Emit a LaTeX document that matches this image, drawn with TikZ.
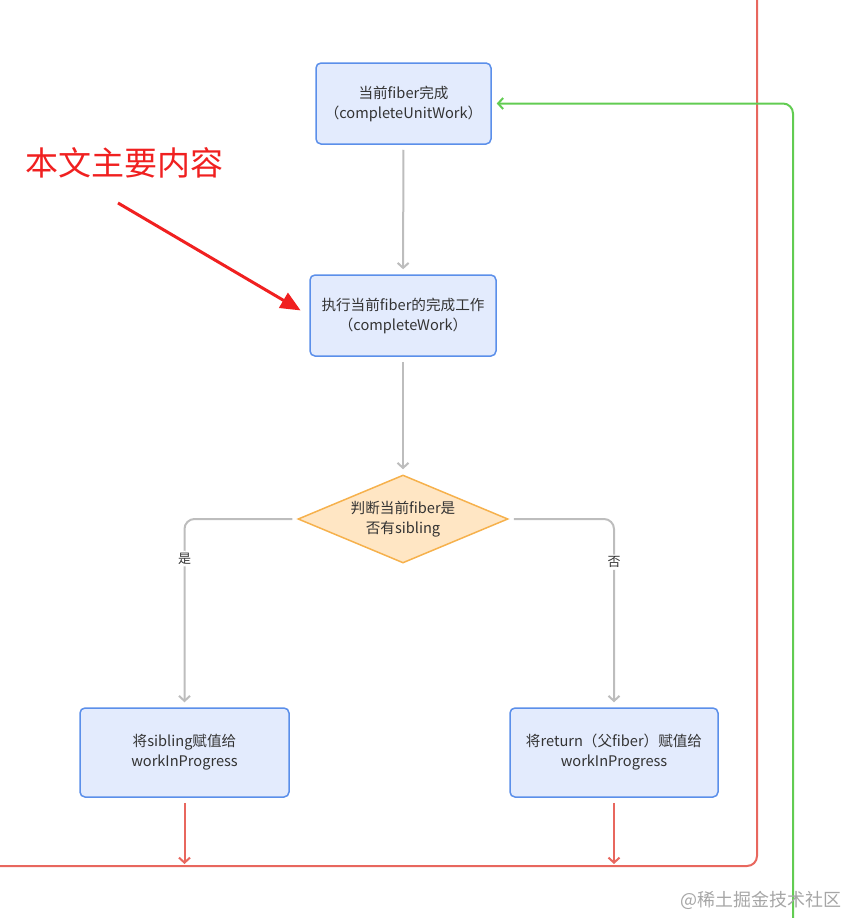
\documentclass[tikz,border=0pt]{standalone}
\usepackage{fontspec}
\newfontfamily\cjk{Noto Sans CJK SC}
\usetikzlibrary{shapes.geometric,arrows.meta}
\definecolor{boxfill}{HTML}{E3EBFD}
\definecolor{boxline}{HTML}{5B8FEA}
\definecolor{decfill}{HTML}{FFE6C4}
\definecolor{decline}{HTML}{F6B14C}
\definecolor{flowgray}{HTML}{BDBDBD}
\definecolor{loopred}{HTML}{E8675E}
\definecolor{loopgreen}{HTML}{62CC52}
\definecolor{notered}{HTML}{F02020}
\tikzset{
	procbox/.style={draw=boxline,fill=boxfill,line width=1.5pt,rounded corners=5pt,
		minimum height=81pt,align=center,text=black!80,font=\cjk\fontsize{14.6}{20}\selectfont},
	decbox/.style={diamond,draw=decline,fill=decfill,line width=1.5pt,inner sep=0pt,aspect=2.39,
		minimum width=210pt,minimum height=88pt,align=center,text=black!80,font=\cjk\fontsize{14.6}{20}\selectfont},
	flow/.style={draw=flowgray,line width=2pt,-{Straight Barb[length=5pt,width=11pt]},shorten <=5pt,shorten >=5pt},
	answer/.style={fill=white,inner sep=2pt,text=black!80,font=\cjk\fontsize{13}{13}\selectfont},
	redloop/.style={draw=loopred,line width=2pt},
	greenloop/.style={draw=loopgreen,line width=2pt},
	pointer/.style={draw=notered,line width=3pt,-{Triangle[length=20pt,width=17pt]}},
	stamp/.style={text=black!35,font=\cjk\fontsize{18}{18}\selectfont}
}
\begin{document}
\begin{tikzpicture}[x=1pt,y=-1pt]
\useasboundingbox (0,0) rectangle (848,918);
%steps
\node[procbox,minimum width=175pt] (unit) at (403.5,103.5) {当前fiber完成\\（completeUnitWork）};
\node[procbox,minimum width=186pt] (work) at (403,315.5) {执行当前fiber的完成工作\\（completeWork）};
\node[decbox] (sib) at (403,519) {判断当前fiber是\\否有sibling};
\node[procbox,minimum width=209pt,minimum height=89pt] (next) at (184.5,752.5) {将sibling赋值给\\workInProgress};
\node[procbox,minimum width=208pt,minimum height=89pt] (back) at (614,752.5) {将return（父fiber）赋值给\\workInProgress};

\draw[flow] (unit) -- (work);
\draw[flow] (work) -- (sib);
\draw[flow,rounded corners=10pt] (sib.west) -- (next.north |- sib.west) -- node[answer,pos=0.21] {是} (next.north);
\draw[flow,rounded corners=10pt] (sib.east) -- (back.north |- sib.east) -- node[answer,pos=0.23] {否} (back.north);

%loops
\coordinate (redTop) at (757,0);
\coordinate (redEnd) at (0,866);
\draw[redloop,rounded corners=10pt] (redTop) -- (redTop |- redEnd) -- (redEnd);
\foreach \n in {next,back}
	\draw[redloop,-{Straight Barb[length=5pt,width=11pt]},shorten <=5pt,shorten >=2pt] (\n) -- (\n.south |- redEnd);
\coordinate (greenBot) at (793,918);
\draw[greenloop,rounded corners=10pt,-{Straight Barb[length=5pt,width=11pt]},shorten >=5pt] (greenBot) -- (greenBot |- unit.east) -- (unit.east);

%note
\node[text=notered,font=\cjk\fontsize{33}{33}\selectfont,anchor=west,inner sep=0pt] (title) at (25,163) {本文主要内容};
\coordinate (noteTail) at (118,203);
\draw[pointer,shorten >=10pt] (noteTail) -- (work.west);

\node[stamp] (site) at (761,900) {@稀土掘金技术社区};
\end{tikzpicture}
\end{document}
